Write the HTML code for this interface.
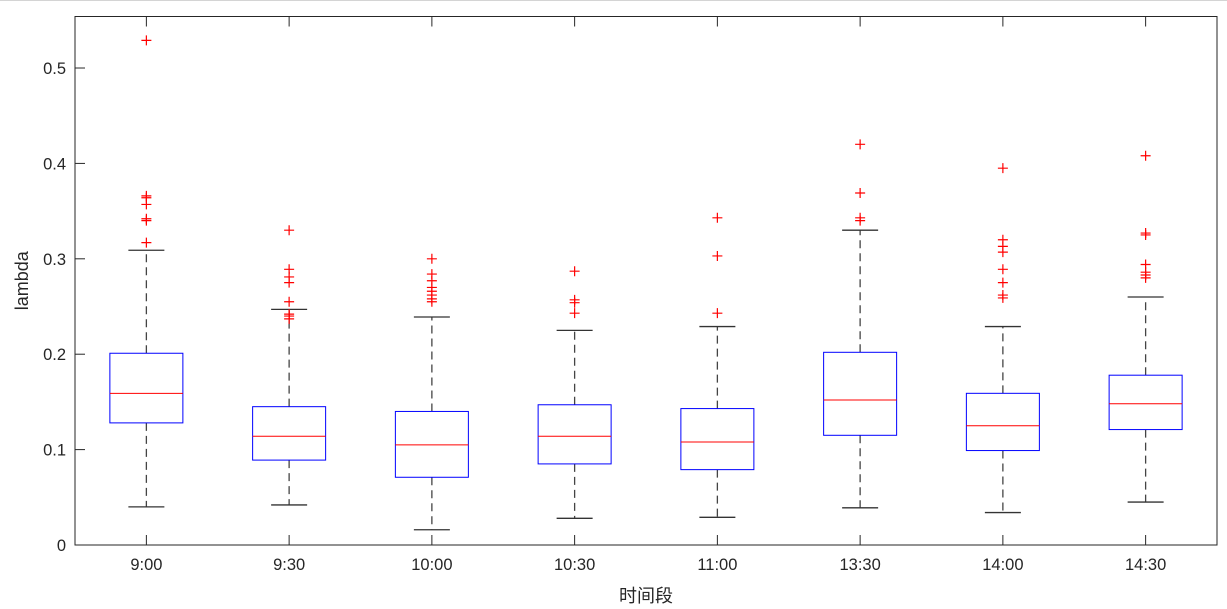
<!DOCTYPE html>
<html><head><meta charset="utf-8"><style>
html,body{margin:0;padding:0;background:#fff;}
svg{display:block;font-family:"Liberation Sans","Noto Sans CJK SC",sans-serif;}
</style></head><body>
<svg id="chart" width="1227" height="609">
<line x1="0" y1="0.5" x2="1227" y2="0.5" stroke="#d4d4d4" stroke-width="1"/>
<g id="plot"></g>
</svg>
<script>
const categories=["9:00","9:30","10:00","10:30","11:00","13:30","14:00","14:30"];
const lowerWhisker=[0.040,0.042,0.016,0.028,0.029,0.039,0.034,0.045];
const q1=[0.128,0.089,0.071,0.085,0.079,0.115,0.099,0.121];
const median=[0.159,0.114,0.105,0.114,0.108,0.152,0.125,0.148];
const q3=[0.201,0.145,0.140,0.147,0.143,0.202,0.159,0.178];
const upperWhisker=[0.309,0.247,0.239,0.225,0.229,0.330,0.229,0.260];
const outliers=[
[0.529,0.366,0.364,0.357,0.342,0.340,0.317],
[0.330,0.289,0.281,0.275,0.255,0.242,0.240,0.237],
[0.300,0.284,0.277,0.270,0.266,0.262,0.258,0.255],
[0.287,0.257,0.254,0.243],
[0.343,0.303,0.243],
[0.420,0.369,0.343,0.340],
[0.395,0.320,0.313,0.307,0.289,0.275,0.262,0.259],
[0.408,0.327,0.325,0.294,0.286,0.283,0.280]];
const yTicks=[0,0.1,0.2,0.3,0.4,0.5];
const yTickLabels=["0","0.1","0.2","0.3","0.4","0.5"];

const L=75,R=1217,T=16.5,B=545,YMAX=0.554;
const xs=i=>L+(i+0.5)*(R-L)/categories.length;
const ys=v=>B-v*(B-T)/YMAX;
const NS="http://www.w3.org/2000/svg";
const g=document.getElementById('plot');
function mk(t,a,p){const e=document.createElementNS(NS,t);for(const k in a)e.setAttribute(k,a[k]);(p||g).appendChild(e);return e;}

const frame=mk('rect',{x:L,y:T,width:R-L,height:B-T,fill:'none',stroke:'#262626','stroke-width':1});



yTicks.forEach((v,i)=>{
 const y=ys(v);
 const t=mk('line',{x1:L,x2:L+10,y1:y,y2:y,stroke:'#262626'});
 
 
 const tx=mk('text',{x:L-9,y:y+6,'text-anchor':'end','font-size':16.5,fill:'#262626'});
 tx.textContent=yTickLabels[i];
 
 
});

categories.forEach((c,i)=>{
 const x=xs(i);
 const tb=mk('line',{x1:x,x2:x,y1:B,y2:B-10,stroke:'#262626'});
 
 
 const tt=mk('line',{x1:x,x2:x,y1:T,y2:T+10,stroke:'#262626'});
 
 
 const lb=mk('text',{x:x,y:B+25,'text-anchor':'middle','font-size':16.5,fill:'#262626'});
 lb.textContent=c;
 
 

 const w1=mk('line',{x1:x,x2:x,y1:ys(q3[i]),y2:ys(upperWhisker[i]),stroke:'#444','stroke-width':1.3,'stroke-dasharray':'8,5'});
 
 
 const w2=mk('line',{x1:x,x2:x,y1:ys(q1[i]),y2:ys(lowerWhisker[i]),stroke:'#444','stroke-width':1.3,'stroke-dasharray':'8,5'});
 
 
 const c1=mk('line',{x1:x-18,x2:x+18,y1:ys(upperWhisker[i]),y2:ys(upperWhisker[i]),stroke:'#333','stroke-width':1.3});
 
 
 const c2=mk('line',{x1:x-18,x2:x+18,y1:ys(lowerWhisker[i]),y2:ys(lowerWhisker[i]),stroke:'#333','stroke-width':1.3});
 
 
 const bx=mk('rect',{x:x-36.5,y:ys(q3[i]),width:73,height:ys(q1[i])-ys(q3[i]),fill:'none',stroke:'#0000ff'});
 
 
 const md=mk('line',{x1:x-36.5,x2:x+36.5,y1:ys(median[i]),y2:ys(median[i]),stroke:'#ff0000'});
 
 
 outliers[i].forEach(v=>{
  const y=ys(v);
  const o=mk('path',{d:`M${x-5},${y}H${x+5}M${x},${y-5}V${y+5}`,stroke:'#ff0000','stroke-width':1.2,fill:'none'});
  
  
 });
});

const yl=mk('text',{x:0,y:0,transform:`translate(28,${(T+B)/2}) rotate(-90)`,'text-anchor':'middle','font-size':18,fill:'#262626'});
yl.textContent='lambda';


const xl=mk('text',{x:(L+R)/2,y:602,'text-anchor':'middle','font-size':18,fill:'#262626'});
xl.textContent='时间段';


</script>
</body></html>
